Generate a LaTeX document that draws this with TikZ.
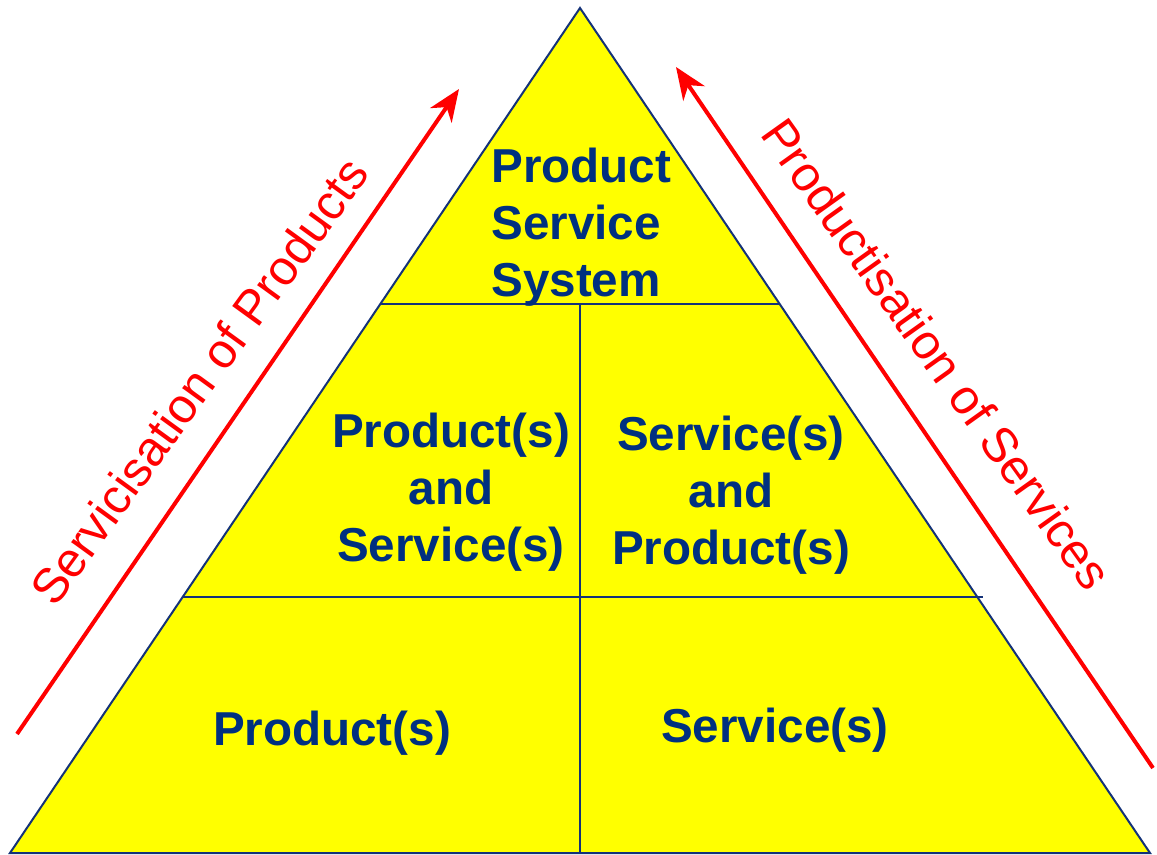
\documentclass[tikz,border=0pt]{standalone}
\usepackage{fontspec}
\setmainfont{Liberation Sans}
\usetikzlibrary{arrows.meta,calc}
\definecolor{pyramidfill}{RGB}{255,255,0}
\definecolor{pyramidline}{RGB}{20,50,120}
\definecolor{pyramidtext}{RGB}{0,48,128}

\begin{document}
\begin{tikzpicture}[x=0.5pt,y=-0.5pt,
    level/.style={font=\fontsize{23.8}{28.5}\selectfont\bfseries, text=pyramidtext, align=center, inner sep=0pt},
    trend/.style={font=\fontsize{24.4}{29}\selectfont, text=red, inner sep=0pt},
    shift arrow/.style={red, line width=2pt, -{Stealth[length=16pt,width=13pt,inset=5pt]}}]
  \useasboundingbox (0,0) rectangle (1157,855);

  \coordinate (apex) at (580,8);
  \coordinate (base-l) at (10,853);
  \coordinate (base-r) at (1150,853);
  \coordinate (base-m) at (580,853);

  \fill[pyramidfill] (apex) -- (base-r) -- (base-l) -- cycle;

  \coordinate (top-l) at (381,304);
  \coordinate (top-r) at (779,304);
  \coordinate (top-m) at (580,304);
  \coordinate (mid-l) at (183,597);
  \coordinate (mid-r) at (983,597);

  \draw[pyramidline, line width=1pt] (top-l) -- (top-r);
  \draw[pyramidline, line width=1pt] (mid-l) -- (mid-r);
  \draw[pyramidline, line width=1pt] (top-m) -- (base-m);
  \draw[pyramidline, line width=1pt, line join=miter] (apex) -- (base-r) -- (base-l) -- cycle;

  \node[level, align=left, anchor=west] (pss) at (491,227) {Product\\Service\\System};
  \node[level] (ps) at (451,492) {Product(s)\\and\\Service(s)};
  \node[level] (sp) at (731,495) {Service(s)\\and\\Product(s)};
  \node[level] (prod) at (332,733) {Product(s)};
  \node[level] (serv) at (775,730) {Service(s)};

  \coordinate (serv-start) at (17,734);
  \coordinate (serv-end) at (459,89);
  \coordinate (prod-start) at (1153,768);
  \coordinate (prod-end) at (676,67);
  \draw[shift arrow] (serv-start) -- (serv-end);
  \draw[shift arrow] (prod-start) -- (prod-end);

  \node[trend, rotate=54] (servicisation) at (199,381) {Servicisation of Products};
  \node[trend, rotate=-54.5] (productisation) at (937,354) {Productisation of Services};
\end{tikzpicture}
\end{document}
